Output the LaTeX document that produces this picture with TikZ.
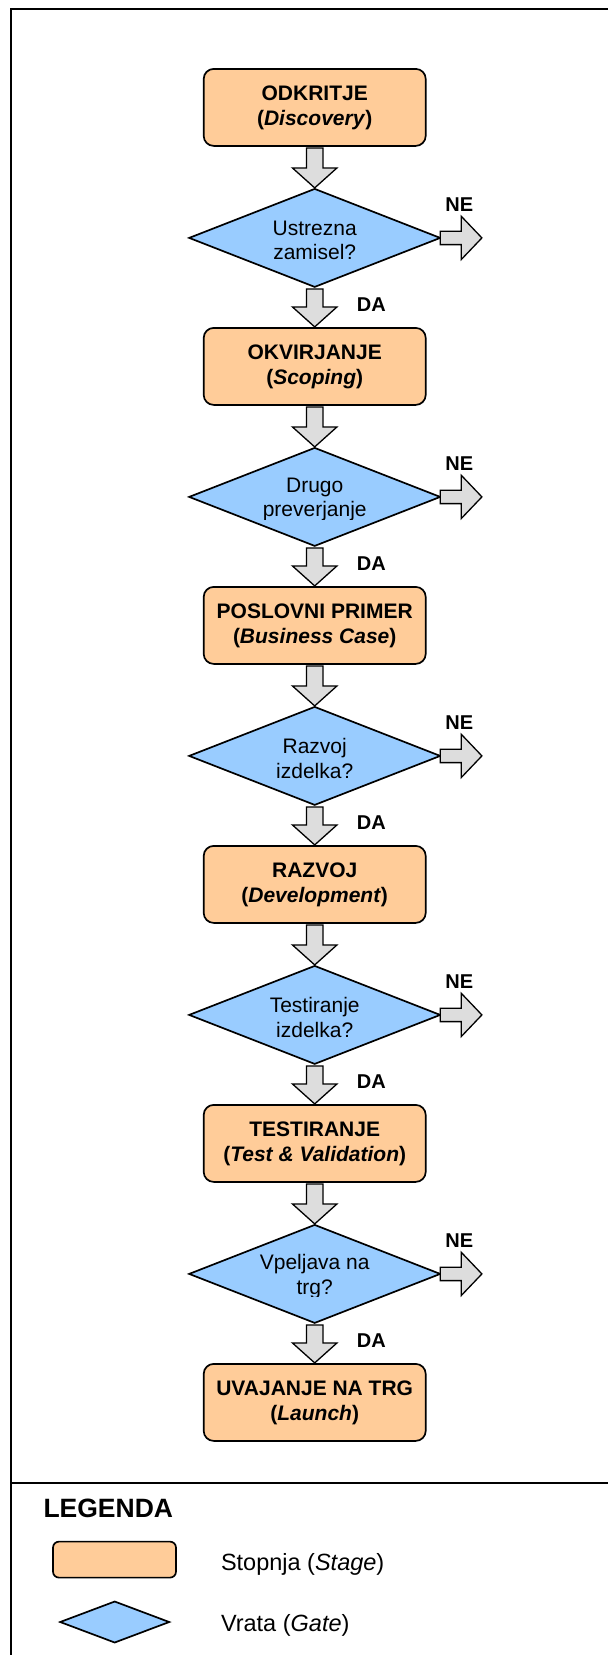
\documentclass[tikz,border=0pt]{standalone}
\usepackage{fontspec}
\setmainfont{Liberation Sans}
\usepackage{xcolor}
\usetikzlibrary{positioning}
\usetikzlibrary{shapes.geometric}
\usetikzlibrary{calc}

\definecolor{stagefill}{HTML}{FFCC99}
\definecolor{gatefill}{HTML}{99CCFF}
\definecolor{arrowfill}{HTML}{DDDDDD}

\newcommand{\downblock}[2]{%
  \draw[block arrow] ($(#1.south)+(-4.15pt,-1pt)$) -- ($(#1.south)+(4.15pt,-1pt)$)
    -- ($(#2.north)+(4.15pt,10.5pt)$) -- ($(#2.north)+(11.15pt,10.5pt)$)
    -- ($(#2.north)+(0,0.5pt)$) -- ($(#2.north)+(-11.15pt,10.5pt)$)
    -- ($(#2.north)+(-4.15pt,10.5pt)$) -- cycle;}
\newcommand{\rightblock}[2]{%
  \draw[block arrow] ($(#1.east)+(0,3.35pt)$) -- ($(#2)+(-10.35pt,3.35pt)$)
    -- ($(#2)+(-10.35pt,10.85pt)$) -- (#2) -- ($(#2)+(-10.35pt,-10.85pt)$)
    -- ($(#2)+(-10.35pt,-3.35pt)$) -- ($(#1.east)+(0,-3.35pt)$) -- cycle;}
\newcommand{\gatetext}[2]{%
  \begin{scope}
    \clip ($(#1.center)+(-55pt,-11.4pt)$) rectangle ($(#1.center)+(55pt,20pt)$);
    \node[gate label] (#1-text) at ($(#1.center)+(0,-1.2pt)$) {#2};
  \end{scope}}

\begin{document}
\begin{tikzpicture}[thick,
    stage/.style={rectangle,rounded corners=5pt,draw,line width=0.85pt,fill=stagefill,
      minimum width=111pt,minimum height=38.5pt,inner sep=0pt,outer sep=0pt,align=center,
      font=\fontsize{10.5}{12.5}\selectfont\bfseries,
      execute at begin node={\rule{0pt}{10pt}}},
    gate/.style={diamond,draw,line width=0.85pt,fill=gatefill,minimum width=125.5pt,
      minimum height=49pt,inner sep=0pt,outer sep=0pt},
    gate label/.style={align=center,inner sep=0pt,font=\fontsize{10.5}{12.3}\selectfont},
    block arrow/.style={draw,line width=0.65pt,fill=arrowfill,line join=miter},
    answer/.style={inner sep=0pt,font=\fontsize{10}{12}\selectfont\bfseries},
    frame/.style={line width=1pt}]
      \useasboundingbox (0,0) rectangle (304pt,-827.5pt);
      \draw[frame] (5.25pt,-827.5pt) -- (5.25pt,-4.65pt) -- (304pt,-4.65pt);
      \draw[frame] (5.25pt,-741.35pt) -- (304pt,-741.35pt);

      \node[stage] (s1) at (157.35pt,-53.7pt) {ODKRITJE\\(\textit{Discovery})};
      \node[gate] (g1) [below=21.5pt of s1] {};
      \node[stage] (s2) [below=20.5pt of g1] {OKVIRJANJE\\(\textit{Scoping})};
      \node[gate] (g2) [below=21.5pt of s2] {};
      \node[stage] (s3) [below=20.5pt of g2] {POSLOVNI PRIMER\\(\textit{Business Case})};
      \node[gate] (g3) [below=21.5pt of s3] {};
      \node[stage] (s4) [below=20.5pt of g3] {RAZVOJ\\(\textit{Development})};
      \node[gate] (g4) [below=21.5pt of s4] {};
      \node[stage] (s5) [below=20.5pt of g4] {TESTIRANJE\\(\textit{Test \& Validation})};
      \node[gate] (g5) [below=21.5pt of s5] {};
      \node[stage] (s6) [below=20.5pt of g5] {UVAJANJE NA TRG\\(\textit{Launch})};

      \gatetext{g1}{Ustrezna\\zamisel?}
      \gatetext{g2}{Drugo\\preverjanje}
      \gatetext{g3}{Razvoj\\izdelka?}
      \gatetext{g4}{Testiranje\\izdelka?}
      \gatetext{g5}{Vpeljava na\\trg?}

      % stage -> gate -> stage
      \downblock{s1}{g1} \downblock{g1}{s2}
      \downblock{s2}{g2} \downblock{g2}{s3}
      \downblock{s3}{g3} \downblock{g3}{s4}
      \downblock{s4}{g4} \downblock{g4}{s5}
      \downblock{s5}{g5} \downblock{g5}{s6}

      % rejected ideas leave to the right
      \coordinate[right=20.85pt of g1] (out1);
      \coordinate[right=20.85pt of g2] (out2);
      \coordinate[right=20.85pt of g3] (out3);
      \coordinate[right=20.85pt of g4] (out4);
      \coordinate[right=20.85pt of g5] (out5);
      \rightblock{g1}{out1} \rightblock{g2}{out2} \rightblock{g3}{out3}
      \rightblock{g4}{out4} \rightblock{g5}{out5}

      \node[answer] (no1) at ($(g1.east)+(9.5pt,16.75pt)$) {NE};
      \node[answer] (no2) at ($(g2.east)+(9.5pt,16.75pt)$) {NE};
      \node[answer] (no3) at ($(g3.east)+(9.5pt,16.75pt)$) {NE};
      \node[answer] (no4) at ($(g4.east)+(9.5pt,16.75pt)$) {NE};
      \node[answer] (no5) at ($(g5.east)+(9.5pt,16.75pt)$) {NE};
      \node[answer] (yes1) at ($(g1.south)+(28.3pt,-8.85pt)$) {DA};
      \node[answer] (yes2) at ($(g2.south)+(28.3pt,-8.85pt)$) {DA};
      \node[answer] (yes3) at ($(g3.south)+(28.3pt,-8.85pt)$) {DA};
      \node[answer] (yes4) at ($(g4.south)+(28.3pt,-8.85pt)$) {DA};
      \node[answer] (yes5) at ($(g5.south)+(28.3pt,-8.85pt)$) {DA};

      % legend
      \node[anchor=west,inner sep=0pt,font=\fontsize{13.25}{15}\selectfont\bfseries] (legtitle)
        at (21.35pt,-754.25pt) {LEGENDA};
      \node[stage,minimum width=61.5pt,minimum height=18pt,rounded corners=3pt] (legstage)
        at (57.25pt,-779.8pt) {};
      \node[gate,minimum width=54.5pt,minimum height=20.5pt] (leggate) at (57.35pt,-811pt) {};
      \node[anchor=base west,inner sep=0pt,font=\fontsize{11.75}{14}\selectfont] (legstagetext)
        at (110.1pt,-785.35pt) {Stopnja (\textit{Stage})};
      \node[anchor=base west,inner sep=0pt,font=\fontsize{11.75}{14}\selectfont] (leggatetext)
        at (110.1pt,-815.5pt) {Vrata (\textit{Gate})};

    \end{tikzpicture}
\end{document}
